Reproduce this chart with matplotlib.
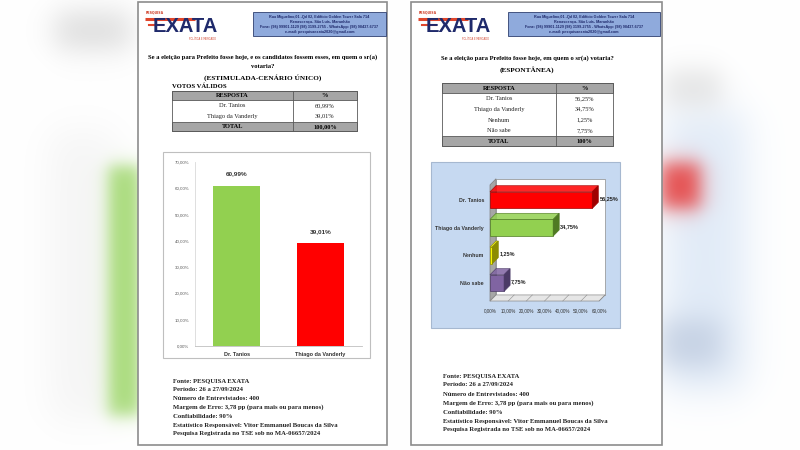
import numpy as np
import matplotlib
matplotlib.use("Agg")
import matplotlib.pyplot as plt
from matplotlib.patches import Rectangle, Polygon

# ---- data ----
cand_valid = ["Dr. Tanios", "Thiago da Vanderly"]
pct_valid = [60.99, 39.01]
valid_colors = ["#92d050", "#ff0000"]

cand_spont = ["Dr. Tanios", "Thiago da Vanderly", "Nenhum", "Não sabe"]
pct_spont = [56.25, 34.75, 1.25, 7.75]
spont_colors = ["#ff0000", "#92d050", "#ffff00", "#8064a2"]
spont_edges = ["#a00000", "#4f7a23", "#8c8c00", "#4b3a66"]

footer = [
    "Fonte: PESQUISA EXATA",
    "Período: 26 a 27/09/2024",
    "Número de Entrevistados: 400",
    "Margem de Erro: 3,78 pp (para mais ou para menos)",
    "Confiabilidade: 90%",
    "Estatístico Responsável: Vitor Emmanuel Boucas da Silva",
    "Pesquisa Registrada no TSE sob no MA-06657/2024",
]
address = [
    "Rua Miguelino,01 -Qd 02, Edifício Golden Tower Sala 714",
    "Renascença- São Luís- Maranhão",
    "Fone: (98) 99901-1129 (98) 3199-2755 - WhatsApp: (98) 98437-6737",
    "e-mail: pesquisaexata2020@gmail.com",
]

SERIF = "Liberation Serif"
SANS = "Liberation Sans"

def pct(v):
    return f"{v:.2f}%".replace(".", ",")

fig = plt.figure(figsize=(8, 4.5), dpi=100)
bg = fig.add_axes([0, 0, 1, 1])
bg.set_xlim(0, 800)
bg.set_ylim(450, 0)
bg.axis("off")

# blurred photo background
yy, xx = np.mgrid[0:450, 0:800]
img = np.ones((450, 800, 3))

def soft(x0, x1, y0, y1, s):
    fx = 1 / (1 + np.exp(-(xx - x0) / s)) * 1 / (1 + np.exp((xx - x1) / s))
    fy = 1 / (1 + np.exp(-(yy - y0) / s)) * 1 / (1 + np.exp((yy - y1) / s))
    return (fx * fy)[..., None]

def paint(box, s, col, a):
    global img
    m = soft(*box, s) * a
    img = img * (1 - m) + np.array(col) * m

paint((55, 130, 12, 48), 9, (0.6, 0.6, 0.6), 0.35)
paint((50, 115, 130, 420), 12, (0.92, 0.92, 0.92), 0.5)
paint((108, 140, 165, 415), 5, (0.64, 0.85, 0.45), 0.95)
paint((665, 745, 110, 390), 12, (0.88, 0.92, 0.97), 1.0)
paint((665, 720, 70, 105), 8, (0.82, 0.82, 0.82), 0.6)
paint((660, 700, 162, 208), 6, (0.9, 0.28, 0.28), 1.0)
paint((660, 720, 320, 365), 9, (0.74, 0.79, 0.87), 0.85)
bg.imshow(img, extent=(0, 800, 450, 0), aspect="auto", zorder=0)

# pages
for x0, w in [(138, 249), (411, 251)]:
    bg.add_patch(Rectangle((x0, 2), w, 443, fc="white", ec="#8c8c8c", lw=1.2, zorder=1))

def logo(x, y):
    bg.text(x + 1, y + 2, "PESQUISA", fontsize=2.3, color="#d0402a", fontweight="bold", zorder=3)
    bg.plot([x, x + 50], [y + 7, y + 7], color="#e0462c", lw=2.2, zorder=3, solid_capstyle="butt")
    bg.plot([x + 4, x + 18], [y + 13, y + 13], color="#e0462c", lw=1.5, zorder=3)
    bg.text(x + 8, y + 19.5, "EXATA", fontsize=14.5, color="#1f2a6b", fontweight="bold",
            family=SANS, va="baseline", zorder=3)
    bg.text(x + 44, y + 25, "POLÍTICA E MERCADO", fontsize=1.8, color="#d0402a",
            va="top", zorder=3)

def addr_box(x0, x1):
    bg.add_patch(Rectangle((x0, 12), x1 - x0, 24, fc="#8faadc", ec="#2f3f6f", lw=0.6, zorder=2))
    for i, line in enumerate(address):
        bg.text((x0 + x1) / 2, 17 + i * 5, line, fontsize=2.7, color="#1f2a6b", fontweight="bold",
                ha="center", va="center", family=SANS, zorder=3)

logo(145, 12)
logo(418, 12)
addr_box(253, 386)
addr_box(508, 660)

def table(x0, x1, xs, y0, rh, rows, total):
    n = len(rows)
    bg.add_patch(Rectangle((x0, y0), x1 - x0, rh, fc="#a6a6a6", ec="#595959", lw=0.6, zorder=2))
    ytot = y0 + rh + n * 10.8
    bg.add_patch(Rectangle((x0, ytot), x1 - x0, rh, fc="#a6a6a6", ec="#595959", lw=0.6, zorder=2))
    bg.add_patch(Rectangle((x0, y0), x1 - x0, ytot + rh - y0, fc="none", ec="#595959", lw=0.6, zorder=2))
    bg.plot([xs, xs], [y0, ytot + rh], color="#595959", lw=0.6, zorder=2)
    c0, c1 = (x0 + xs) / 2, (xs + x1) / 2
    kw = dict(ha="center", va="center", family=SERIF, zorder=3)
    bg.text(c0, y0 + rh / 2, "RESPOSTA", fontsize=4.6, fontweight="bold", **kw)
    bg.text(c1, y0 + rh / 2, "%", fontsize=4.6, fontweight="bold", **kw)
    for i, (name, val) in enumerate(rows):
        yc = y0 + rh + 10.8 * i + 5.4
        bg.text(c0, yc, name, fontsize=4.6, color="#222222", **kw)
        bg.text(c1, yc, pct(val), fontsize=4.6, color="#222222", **kw)
    bg.text(c0, ytot + rh / 2, "TOTAL", fontsize=4.6, fontweight="bold", **kw)
    bg.text(c1, ytot + rh / 2, total, fontsize=4.6, fontweight="bold", **kw)

# ---- left page ----
qkw = dict(ha="center", va="center", family=SERIF, fontweight="bold", zorder=3)
bg.text(263, 57, "Se a eleição para Prefeito fosse hoje, e os candidatos fossem esses, em quem o sr(a)",
        fontsize=4.7, **qkw)
bg.text(263, 67, "votaria?", fontsize=4.7, **qkw)
bg.text(263, 78, "(ESTIMULADA-CENÁRIO ÚNICO)", fontsize=5.2, **qkw)
bg.text(172, 86, "VOTOS VÁLIDOS", fontsize=4.8, ha="left", va="center", family=SERIF,
        fontweight="bold", zorder=3)
table(172, 357, 293, 91, 9, list(zip(cand_valid, pct_valid)), "100,00%")

bg.add_patch(Rectangle((163, 152), 207, 206, fc="white", ec="#bfbfbf", lw=0.8, zorder=2))
ax1 = fig.add_axes([195 / 800, (450 - 346) / 450, 167 / 800, 184 / 450])
ax1.set_facecolor("none")
bars = ax1.bar(range(len(cand_valid)), pct_valid, width=0.56, color=valid_colors)
for b, v in zip(bars, pct_valid):
    ax1.text(b.get_x() + b.get_width() / 2, v + 3.5, pct(v), ha="center", va="bottom",
             fontsize=4.6, fontweight="bold", family=SANS, color="#333333")
ax1.set_xlim(-0.5, 1.5)
ax1.set_ylim(0, 70)
ax1.set_yticks(range(0, 71, 10))
ax1.set_yticklabels([pct(v) for v in range(0, 71, 10)], fontsize=3.2, color="#595959", family=SANS)
ax1.set_xticks(range(len(cand_valid)))
ax1.set_xticklabels(cand_valid, fontsize=4.0, fontweight="bold", family=SANS, color="#333333")
ax1.tick_params(length=0, pad=4)
for s in ["top", "right"]:
    ax1.spines[s].set_visible(False)
ax1.spines["left"].set_color("#d9d9d9")
ax1.spines["bottom"].set_color("#bfbfbf")
ax1.spines["left"].set_linewidth(0.6)
ax1.spines["bottom"].set_linewidth(0.6)

for i, line in enumerate(footer):
    bg.text(173, 381 + i * 8.8, line, fontsize=4.8, ha="left", va="center", family=SERIF,
            fontweight="bold", color="#222222", zorder=3)

# ---- right page ----
bg.text(527, 58, "Se a eleição para Prefeito fosse hoje, em quem o sr(a) votaria?", fontsize=4.7, **qkw)
bg.text(527, 70, "(ESPONTÂNEA)", fontsize=5.2, **qkw)
table(442, 613, 556, 83, 10, list(zip(cand_spont, pct_spont)), "100%")

bg.add_patch(Rectangle((431, 162), 189, 166, fc="#c6d9f1", ec="#a6b8d0", lw=0.8, zorder=2))
ax2 = fig.add_axes([486 / 800, (450 - 306) / 450, 126 / 800, 130 / 450])
ax2.set_facecolor("none")
ax2.set_xlim(-2.2, 67.1)
ax2.set_ylim(3.83, -0.87)
dx, dy = 3.3, 0.22
top, bot, xmax = -0.55, 3.65, 60
# walls
ax2.add_patch(Polygon([(dx, top - dy), (xmax + dx, top - dy), (xmax + dx, bot - dy), (dx, bot - dy)],
                      fc="white", ec="#8c8c8c", lw=0.5))
ax2.add_patch(Polygon([(0, top), (dx, top - dy), (dx, bot - dy), (0, bot)],
                      fc="#a6a6a6", ec="#7f7f7f", lw=0.5))
ax2.add_patch(Polygon([(0, bot), (dx, bot - dy), (xmax + dx, bot - dy), (xmax, bot)],
                      fc="#e6e6e6", ec="#8c8c8c", lw=0.5))
for t in range(0, 61, 10):
    ax2.plot([t, t + dx], [bot, bot - dy], color="#8c8c8c", lw=0.4)

h = 0.6
bh = ax2.barh(range(len(cand_spont)), pct_spont, height=h, color=spont_colors,
              edgecolor=spont_edges, lw=0.5, zorder=3)
for i, (v, c, e) in enumerate(zip(pct_spont, spont_colors, spont_edges)):
    y0 = i - h / 2
    ax2.add_patch(Polygon([(0, y0), (dx, y0 - dy), (v + dx, y0 - dy), (v, y0)],
                          fc=c, ec=e, lw=0.5, zorder=3, alpha=0.85))
    ax2.add_patch(Polygon([(v, y0), (v + dx, y0 - dy), (v + dx, y0 + h - dy), (v, y0 + h)],
                          fc=e, ec=e, lw=0.5, zorder=3))
    ax2.text(v + dx + 0.6, i - 0.05, pct(v), fontsize=4.0, fontweight="bold", family=SANS,
             ha="left", va="center", color="#222222", zorder=4)

ax2.set_xticks(range(0, 61, 10))
ax2.set_xticklabels([pct(v) for v in range(0, 61, 10)], fontsize=3.3, family=SANS, color="#333333")
ax2.set_yticks(range(len(cand_spont)))
ax2.set_yticklabels(cand_spont, fontsize=3.8, fontweight="bold", family=SANS, color="#333333")
ax2.tick_params(length=0, pad=1.5)
for s in ax2.spines.values():
    s.set_visible(False)

for i, line in enumerate(footer):
    bg.text(443, 376 + i * 9.0, line, fontsize=4.8, ha="left", va="center", family=SERIF,
            fontweight="bold", color="#222222", zorder=3)

fig.savefig("out.png", dpi=100)
